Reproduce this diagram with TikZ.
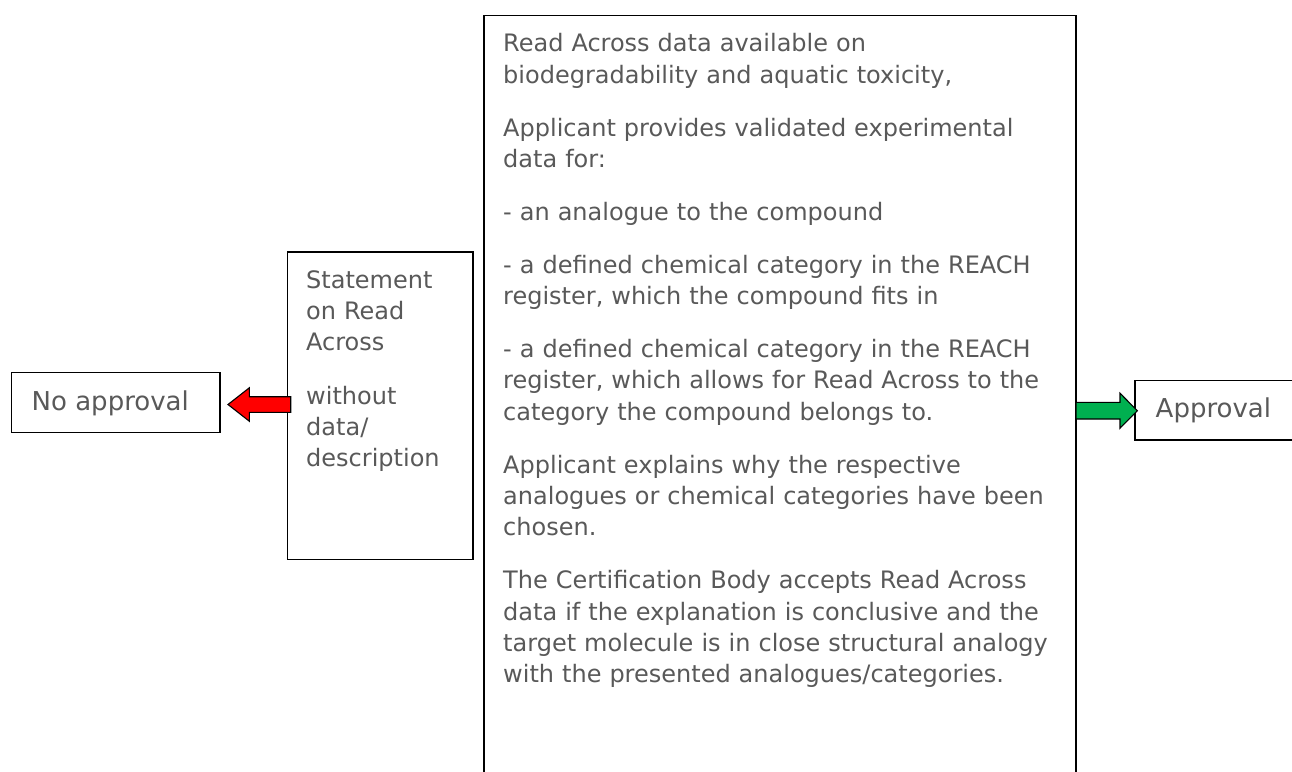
\documentclass[tikz,border=0pt]{standalone}
\usepackage{fontspec}
\setmainfont{DejaVu Sans}
\usetikzlibrary{calc}
\definecolor{txtgray}{RGB}{89,89,89}
\definecolor{arrowred}{RGB}{255,0,0}
\definecolor{arrowgreen}{RGB}{0,176,80}
\tikzset{
  box/.style={draw=black, line width=1.4pt, rectangle, inner sep=0pt, outer sep=0pt, anchor=north west},
  txt/.style={inner sep=0pt, anchor=base west, align=left, text=txtgray, font=\fontsize{24}{31.3}\selectfont},
  bigtxt/.style={inner sep=0pt, anchor=base west, text=txtgray, font=\fontsize{26}{31}\selectfont},
  blockarrow/.style={draw=black, line width=1.1pt, line join=miter},
}
\begin{document}
\begin{tikzpicture}[x=1pt,y=-1pt]
\useasboundingbox (0,0) rectangle (1292,771);
\clip (0,0) rectangle (1292,771);
\fill[white] (0,0) rectangle (1292,771);

% boxes
\node[box, minimum width=592pt, minimum height=800pt] (main) at (484,15.7) {};
\node[box, minimum width=185.7pt, minimum height=307.7pt] (stmt) at (287.3,252) {};
\node[box, minimum width=208.3pt, minimum height=60pt] (noappr) at (11.7,372.7) {};
\node[box, minimum width=220pt, minimum height=59.3pt] (appr) at (1135,380.7) {};

% texts
\node[txt, text width=570pt] (maintext) at (503,51.7) {Read Across data available on\\
biodegradability and aquatic toxicity,\\[21.7pt]
Applicant provides validated experimental\\
data for:\\[21.7pt]
- an analogue to the compound\\[21.7pt]
- a defined chemical category in the REACH\\
register, which the compound fits in\\[21.7pt]
- a defined chemical category in the REACH\\
register, which allows for Read Across to the\\
category the compound belongs to.\\[21.7pt]
Applicant explains why the respective\\
analogues or chemical categories have been\\
chosen.\\[21.7pt]
The Certification Body accepts Read Across\\
data if the explanation is conclusive and the\\
target molecule is in close structural analogy\\
with the presented analogues/categories.};

\node[txt, text width=165pt] (stmttext) at (306,288.3) {Statement\\
on Read\\
Across\\[22pt]
without\\
data/\\
description};

\node[bigtxt] (noapprtext) at (31.5,410.7) {No approval};
\node[bigtxt] (apprtext) at (1155.5,417.7) {Approval};

% block arrows
\coordinate (rtail) at (stmt.west |- 0,404.5);
\coordinate (rtip) at ($(noappr.east |- 0,404.5)+(8,0)$);
\draw[blockarrow, fill=arrowred]
  ($(rtail)+(3.4,-7.8)$) -- ($(rtip)+(21.3,-7.8)$) -- ($(rtip)+(21.3,-16.7)$) -- (rtip)
  -- ($(rtip)+(21.3,16.7)$) -- ($(rtip)+(21.3,7.8)$) -- ($(rtail)+(3.4,7.8)$) -- cycle;

\coordinate (gtail) at (main.east |- 0,410.7);
\coordinate (gtip) at ($(appr.west |- 0,410.7)+(2.3,0)$);
\draw[blockarrow, fill=arrowgreen]
  ($(gtail)+(0,-8.3)$) -- ($(gtip)+(-17.3,-8.3)$) -- ($(gtip)+(-17.3,-17.5)$) -- (gtip)
  -- ($(gtip)+(-17.3,17.5)$) -- ($(gtip)+(-17.3,8.3)$) -- ($(gtail)+(0,8.3)$) -- cycle;
\end{tikzpicture}
\end{document}
